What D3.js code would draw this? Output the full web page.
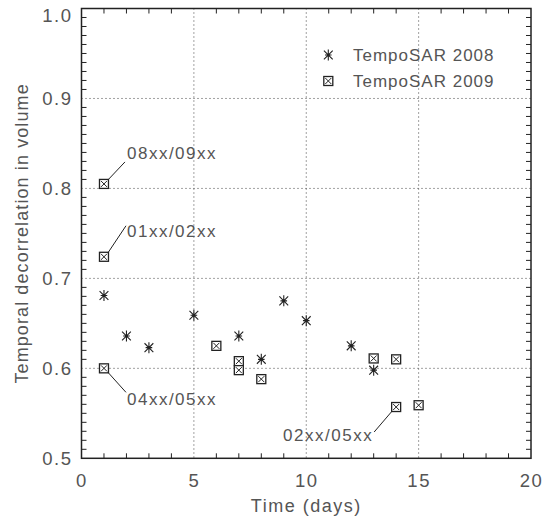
<!DOCTYPE html>
<html>
<head>
<meta charset="utf-8">
<script src="https://cdn.jsdelivr.net/npm/d3@7"></script>
<style>
  html, body { margin: 0; padding: 0; background: #fff; }
  svg text { font-family: "Liberation Sans", Arial, sans-serif; fill: #555; }
</style>
</head>
<body>
<svg id="chart" width="550" height="517"></svg>
<script>
// ---- data ----
const days2008 = [1, 2, 3, 5, 7, 8, 9, 10, 12, 13];
const vals2008 = [0.681, 0.636, 0.623, 0.659, 0.636, 0.610, 0.675, 0.653, 0.625, 0.598];
const days2009 = [1, 1, 1, 6, 7, 7, 8, 13, 14, 14, 15];
const vals2009 = [0.805, 0.724, 0.600, 0.625, 0.608, 0.598, 0.588, 0.611, 0.610, 0.557, 0.559];
const xTicks = [0, 5, 10, 15, 20];
const yTicks = [0.5, 0.6, 0.7, 0.8, 0.9, 1.0];
const seriesNames = ["TempoSAR 2008", "TempoSAR 2009"];
const annotLabels = ["08xx/09xx", "01xx/02xx", "04xx/05xx", "02xx/05xx"];
const annotDays = [1, 1, 1, 14];
const annotVals = [0.805, 0.724, 0.600, 0.557];
const xTitle = "Time (days)";
const yTitle = "Temporal decorrelation in volume";

// ---- layout ----
const L = 81.5, R = 531, T = 8.5, B = 458.3;
const svg = d3.select("#chart");
const x = d3.scaleLinear().domain([0, 20]).range([L, R]);
const y = d3.scaleLinear().domain([0.5, 1.0]).range([B, T]);
const ink = "#222";
const txt = "#555";

// gridlines (dotted)
const g = svg.append("g");
g.selectAll("line.gx").data(xTicks.slice(1, -1)).join("line")
  .attr("x1", d => x(d)).attr("x2", d => x(d)).attr("y1", T).attr("y2", B)
  .attr("stroke", "#444").attr("stroke-width", 1).attr("stroke-dasharray", "1,3");
g.selectAll("line.gy").data(yTicks.slice(1, -1)).join("line")
  .attr("y1", d => y(d)).attr("y2", d => y(d)).attr("x1", L).attr("x2", R)
  .attr("stroke", "#444").attr("stroke-width", 1).attr("stroke-dasharray", "1,3");

// minor ticks on all four sides, pointing inward
const tl = 5;
const xMinor = d3.range(0, 21, 1).filter(v => v % 5 !== 0);
const yMinor = d3.range(0, 51, 1).map(v => 0.5 + v / 100).filter((v, i) => i % 10 !== 0);
xMinor.forEach(v => {
  g.append("line").attr("x1", x(v)).attr("x2", x(v)).attr("y1", B).attr("y2", B - tl).attr("stroke", ink).attr("stroke-width", 1);
  g.append("line").attr("x1", x(v)).attr("x2", x(v)).attr("y1", T).attr("y2", T + tl).attr("stroke", ink).attr("stroke-width", 1);
});
yMinor.forEach(v => {
  g.append("line").attr("y1", y(v)).attr("y2", y(v)).attr("x1", L).attr("x2", L + tl).attr("stroke", ink).attr("stroke-width", 1);
  g.append("line").attr("y1", y(v)).attr("y2", y(v)).attr("x1", R).attr("x2", R - tl).attr("stroke", ink).attr("stroke-width", 1);
});

// frame
svg.append("rect").attr("x", L).attr("y", T).attr("width", R - L).attr("height", B - T)
  .attr("fill", "none").attr("stroke", ink).attr("stroke-width", 1.5);

// axes labels via d3 axes (no lines)
const xAxis = svg.append("g").attr("transform", `translate(0,${B})`)
  .call(d3.axisBottom(x).tickValues(xTicks).tickFormat(d3.format("d")).tickSize(0).tickPadding(16));
xAxis.select(".domain").remove();
xAxis.selectAll("text").attr("font-size", 18.5).attr("letter-spacing", 1.5)
  .style("font-family", "Liberation Sans, Arial, sans-serif").attr("fill", txt);

const yAxis = svg.append("g").attr("transform", `translate(${L},0)`)
  .call(d3.axisLeft(y).tickValues(yTicks).tickFormat(d3.format(".1f")).tickSize(0).tickPadding(9));
yAxis.select(".domain").remove();
yAxis.selectAll("text").attr("font-size", 18.5).attr("letter-spacing", 1.5)
  .style("font-family", "Liberation Sans, Arial, sans-serif").attr("fill", txt)
  .attr("dy", d => d === 1.0 ? "0.72em" : "0.32em");

// titles
svg.append("text").attr("x", (L + R) / 2).attr("y", 512).attr("text-anchor", "middle")
  .attr("font-size", 18).attr("letter-spacing", 1.5).text(xTitle);
svg.append("text").attr("transform", `translate(28,${(T + B) / 2}) rotate(-90)`)
  .attr("text-anchor", "middle").attr("font-size", 18).attr("letter-spacing", 1.1).text(yTitle);

// marker painters
function asterisk(sel, cx, cy, r) {
  const d = r * 0.8;
  sel.append("path")
    .attr("d", `M${cx},${cy - r}L${cx},${cy + r}M${cx - d},${cy - d}L${cx + d},${cy + d}M${cx - d},${cy + d}L${cx + d},${cy - d}M${cx - r * 0.6},${cy}L${cx + r * 0.6},${cy}`)
    .attr("stroke", ink).attr("stroke-width", 1.1).attr("fill", "none");
  sel.append("circle").attr("cx", cx).attr("cy", cy).attr("r", 1.3).attr("fill", ink);
}
function boxX(sel, cx, cy, h) {
  sel.append("rect").attr("x", cx - h).attr("y", cy - h).attr("width", 2 * h).attr("height", 2 * h)
    .attr("fill", "#fff").attr("stroke", ink).attr("stroke-width", 1.3);
  const e = h - 1.5;
  sel.append("path").attr("d", `M${cx - e},${cy - e}L${cx + e},${cy + e}M${cx - e},${cy + e}L${cx + e},${cy - e}`)
    .attr("stroke", ink).attr("stroke-width", 1);
}

// points
const pts = svg.append("g");
days2008.forEach((dd, i) => asterisk(pts, x(dd), y(vals2008[i]), 5.5));
days2009.forEach((dd, i) => boxX(pts, x(dd), y(vals2009[i]), 4.5));

// annotations (leader + label); offsets relative to the point
const annotLayout = [
  { lx1: 4, ly1: -4, lx2: 21, ly2: -22, tx: 23, ty: -25, anchor: "start" },
  { lx1: 4, ly1: -4, lx2: 22, ly2: -31, tx: 23, ty: -20, anchor: "start" },
  { lx1: 4, ly1: 4, lx2: 22, ly2: 24, tx: 23, ty: 37, anchor: "start" },
  { lx1: -4, ly1: 4, lx2: -22, ly2: 25, tx: -23, ty: 34, anchor: "end" }
];
annotLabels.forEach((lab, i) => {
  const px = x(annotDays[i]), py = y(annotVals[i]), o = annotLayout[i];
  svg.append("line").attr("x1", px + o.lx1).attr("y1", py + o.ly1).attr("x2", px + o.lx2).attr("y2", py + o.ly2)
    .attr("stroke", ink).attr("stroke-width", 1);
  svg.append("text").attr("x", px + o.tx).attr("y", py + o.ty).attr("text-anchor", o.anchor)
    .attr("font-size", 17).attr("letter-spacing", 1.5).text(lab);
});

// legend
const lg = svg.append("g");
asterisk(lg, 328.3, 55, 5.5);
boxX(lg, 328.3, 81, 4.5);
seriesNames.forEach((nm, i) => {
  lg.append("text").attr("x", 353).attr("y", 61 + i * 26).attr("font-size", 17)
    .attr("letter-spacing", 1).text(nm);
});
</script>
</body>
</html>
